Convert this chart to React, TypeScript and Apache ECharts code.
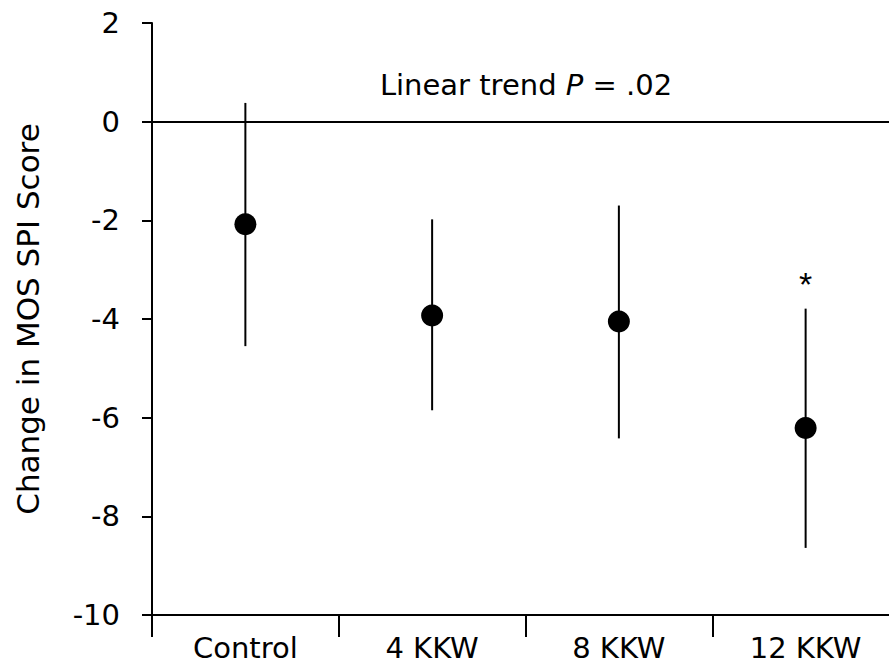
import React, { useEffect, useRef } from "react";
import * as echarts from "echarts";

const categories = ["Control", "4 KKW", "8 KKW", "12 KKW"];
const means = [-2.08, -3.93, -4.05, -6.21];
const upper = [0.38, -1.98, -1.7, -3.79];
const lower = [-4.55, -5.85, -6.42, -8.64];
const significant = [false, false, false, true];
const trendLabel = "Linear trend P = .02";

const FONT = "DejaVu Sans, Liberation Sans, Arial, sans-serif";
const FS = 29;

export default function App() {
  const ref = useRef<HTMLDivElement>(null);
  useEffect(() => {
    if (!ref.current) return;
    const chart = echarts.init(ref.current, undefined, { renderer: "svg" });
    const errData = categories.map((_, i) => [i, lower[i], upper[i]]);
    const starData = categories
      .map((_, i) => (significant[i] ? [i, upper[i] + 0.5] : null))
      .filter((d) => d !== null);
    chart.setOption({
      animation: false,
      backgroundColor: "#fff",
      textStyle: { fontFamily: FONT },
      grid: { left: 152, top: 23, right: 1, height: 592, containLabel: false },
      xAxis: {
        type: "category",
        data: categories,
        boundaryGap: true,
        axisLine: { show: true, onZero: false, lineStyle: { color: "#000", width: 2 } },
        axisTick: { show: true, length: 22, alignWithLabel: false, lineStyle: { color: "#000", width: 2 } },
        axisLabel: { color: "#000", fontSize: FS, lineHeight: FS, fontFamily: FONT, margin: 18 },
        splitLine: { show: false },
      },
      yAxis: {
        type: "value",
        min: -10,
        max: 2,
        interval: 2,
        name: "Change in MOS SPI Score",
        nameLocation: "middle",
        nameGap: 109,
        nameTextStyle: { color: "#000", fontSize: 31, fontFamily: FONT },
        axisLine: { show: true, lineStyle: { color: "#000", width: 2 } },
        axisTick: { show: true, length: 10, lineStyle: { color: "#000", width: 2 } },
        axisLabel: { color: "#000", fontSize: FS, fontFamily: FONT, margin: 32 },
        splitLine: { show: false },
      },
      series: [
        {
          type: "custom",
          data: errData,
          renderItem: (params: any, api: any) => {
            const x = api.value(0);
            const lo = api.coord([x, api.value(1)]);
            const hi = api.coord([x, api.value(2)]);
            return {
              type: "line",
              shape: { x1: lo[0], y1: lo[1], x2: hi[0], y2: hi[1] },
              style: { stroke: "#000", lineWidth: 2 },
            };
          },
          z: 2,
        },
        {
          type: "scatter",
          data: means.map((v, i) => [i, v]),
          symbol: "circle",
          symbolSize: 22,
          itemStyle: { color: "#000", opacity: 1 },
          z: 3,
          markLine: {
            silent: true,
            symbol: "none",
            label: { show: false },
            lineStyle: { color: "#000", width: 2, type: "solid", opacity: 1 },
            data: [{ yAxis: 0 }],
          },
        },
        {
          type: "custom",
          data: starData,
          renderItem: (params: any, api: any) => {
            const p = api.coord([api.value(0), api.value(1)]);
            return {
              type: "text",
              x: p[0],
              y: p[1],
              style: {
                text: "*",
                fill: "#000",
                fontSize: 34,
                fontFamily: "Liberation Sans, Arial, sans-serif",
                align: "center",
                verticalAlign: "middle",
              },
            };
          },
          z: 4,
        },
      ],
      graphic: [
        {
          type: "text",
          x: 526,
          y: 85,
          style: {
            text: "{a|Linear trend }{b|P}{a| = .02}",
            align: "center",
            verticalAlign: "middle",
            rich: {
              a: { fontSize: FS, fontFamily: FONT, fill: "#000", color: "#000" },
              b: { fontSize: FS, fontFamily: FONT, fontStyle: "italic", fill: "#000", color: "#000" },
            },
          },
        },
      ],
    });
    return () => chart.dispose();
  }, []);
  return (
    <div
      ref={ref}
      style={{ position: "fixed", left: 0, top: 0, width: 900, height: 663, background: "#fff" }}
      aria-label={trendLabel}
    />
  );
}
